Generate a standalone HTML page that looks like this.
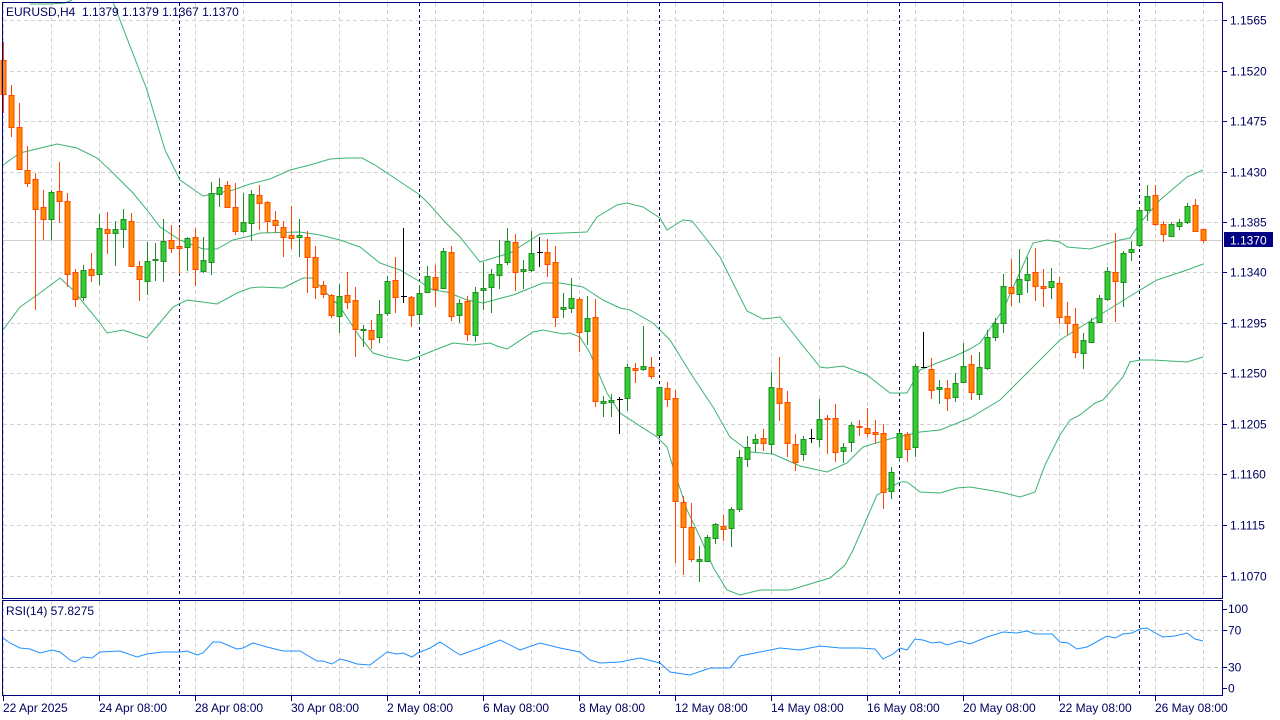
<!DOCTYPE html>
<html><head><meta charset="utf-8"><style>
html,body{margin:0;padding:0;background:#fff;}
svg{display:block;}
text{font-family:"Liberation Sans",sans-serif;font-size:12px;fill:#000060;}
</style></head><body>
<svg id="s" width="1280" height="720" xmlns="http://www.w3.org/2000/svg"></svg>
<script>
const S=document.getElementById('s');let h='';
function L(x1,y1,x2,y2,c,w,d){h+=`<line x1="${x1}" y1="${y1}" x2="${x2}" y2="${y2}" stroke="${c}" stroke-width="${w||1}" ${d?`stroke-dasharray="${d}"`:''} shape-rendering="crispEdges"/>`;}
function T(x,y,t,a){h+=`<text x="${x}" y="${y}" ${a||''}>${t}</text>`;}
function P(pts,c){h+=`<polyline fill="none" stroke="${c}" stroke-width="1" points="${pts.map(p=>p.join(',')).join(' ')}"/>`;}
// grid
for(let x=3.5;x<1223;x+=48){L(x,3,x,597,'#d3d3d3',1,'4,3');L(x,601,x,695,'#d3d3d3',1,'4,3');}
const gy=[20,71,121,172,222,272,323,373,424,474,525,576];
const gl=['1.1565','1.1520','1.1475','1.1430','1.1385','1.1340','1.1295','1.1250','1.1205','1.1160','1.1115','1.1070'];
gy.forEach((y,i)=>{L(3,y+.5,1222,y+.5,'#d3d3d3',1,'4,3');L(1223,y+.5,1227,y+.5,'#000080');if(i!=5||true)T(1230,y+4.5,gl[i]);});
L(3,240.5,1222,240.5,'#d0d0d0');
// RSI grid
L(3,630.5,1222,630.5,'#c0c0c0',1,'4,3');L(3,667.5,1222,667.5,'#c0c0c0',1,'4,3');
// separators
[179,419,659,899,1139].forEach(x=>{L(x+.5,3,x+.5,597,'#000060',1,'3,3');L(x+.5,601,x+.5,695,'#000060',1,'3,3');});
// bands
const up=[[30,4],[50,4],[65,3],[72,0]];
P(up,'#3cb371');
P([[113,2],[147,90],[165,150],[180,180],[203,196],[233,190],[250,184],[270,179],[290,170],[310,165],[330,159],[348,158],[362,158],[375,165],[390,175],[405,185],[420,195],[430,205],[445,222],[460,237],[480,262],[510,253],[540,234],[587,232],[597,217],[617,205],[627,203],[643,207],[660,218],[667,230],[683,220],[692,221],[707,240],[720,257],[747,311],[763,319],[780,317],[820,367],[827,368],[843,366],[867,375],[890,393],[907,393],[920,370],[937,363],[953,357],[970,349],[980,343],[1003,310],[1033,243],[1047,240],[1060,242],[1067,247],[1090,249],[1120,240],[1130,238],[1140,223],[1160,200],[1187,177],[1203,170]],'#3cb371');
P([[3,165],[20,153],[57,144],[77,148],[97,158],[110,170],[133,193],[147,210],[160,227],[180,240],[203,249],[217,249],[233,240],[250,236],[260,233],[300,232],[320,235],[340,240],[360,247],[380,263],[400,270],[417,280],[433,290],[447,292],[467,300],[483,303],[513,295],[543,283],[560,283],[583,287],[603,300],[620,308],[630,310],[653,323],[670,340],[693,377],[713,407],[730,437],[750,452],[773,454],[800,466],[827,472],[847,463],[863,447],[893,438],[920,432],[940,430],[970,418],[1000,400],[1060,340],[1103,313],[1140,290],[1157,280],[1187,270],[1203,264]],'#3cb371');
P([[3,330],[20,307],[40,293],[60,278],[73,290],[100,323],[107,333],[123,330],[147,338],[173,307],[187,300],[217,304],[237,293],[250,288],[260,287],[283,288],[293,283],[303,278],[312,278],[340,307],[360,337],[373,353],[387,357],[407,361],[420,356],[440,348],[453,343],[473,345],[490,343],[497,346],[507,349],[533,332],[543,330],[563,334],[570,333],[580,337],[590,353],[607,393],[620,413],[657,437],[667,447],[673,467],[687,510],[700,537],[713,567],[727,590],[740,595],[760,590],[790,590],[830,578],[845,565],[853,550],[877,495],[900,482],[907,482],[920,492],[940,493],[957,488],[970,487],[1000,492],[1020,497],[1035,492],[1045,465],[1060,435],[1070,420],[1080,415],[1095,403],[1103,400],[1123,377],[1130,362],[1140,360],[1153,360],[1187,362],[1203,357]],'#3cb371');
// candles: type, bodyTop, bodyBot, wickTop, wickBot
const C=`o,60,94,42,113;o,95,127,85,137;o,127,169,103,170;o,170,183,146,187;o,179,209,173,310;o,207,219,190,240;g,192,219,190,240;o,191,201,162,223;o,201,274,193,287;o,272,299,269,307;g,270,297,265,301;o,269,275,253,282;g,228,274,214,285;o,229,233,212,254;g,229,233,221,266;g,219,229,209,248;o,221,266,213,267;o,266,279,261,301;g,261,281,242,295;g,259,260,243,281;g,241,261,219,282;o,240,248,225,253;o,246,248,227,274;g,238,247,237,271;o,237,269,228,286;g,260,271,237,273;g,193,262,182,275;g,187,194,178,207;o,185,207,181,207;o,207,231,183,235;g,222,231,193,233;g,194,223,190,241;o,195,203,185,230;o,202,221,201,233;o,220,225,211,233;o,227,237,221,257;o,235,238,206,249;g,235,237,219,257;o,237,257,231,293;o,257,287,246,299;o,285,294,281,298;o,295,315,294,318;g,296,316,284,333;o,295,302,272,309;o,300,329,287,357;g,329,330,325,347;o,330,339,320,349;g,314,337,300,343;g,281,313,276,316;o,280,297,257,313;d,296,296,228,303;o,297,315,296,327;g,293,314,285,324;g,276,292,266,293;o,277,289,265,307;g,251,288,248,289;o,252,316,246,321;g,303,315,299,323;o,301,334,296,341;g,292,335,287,342;g,288,290,262,310;g,274,287,269,313;g,264,275,240,289;g,241,262,228,265;o,242,272,234,291;g,269,271,260,289;g,253,270,231,272;d,252,252,237,267;o,252,264,239,277;o,262,317,246,327;g,307,309,293,318;g,298,308,278,313;o,299,332,297,352;g,318,331,296,345;o,317,401,299,407;g,401,403,396,417;g,400,402,394,417;d,399,399,397,434;g,367,398,364,411;o,368,370,363,383;g,366,369,326,371;o,367,376,357,379;g,387,435,387,435;o,388,399,382,407;o,398,501,390,563;o,502,527,496,575;o,527,559,503,562;g,559,561,546,582;g,537,561,535,562;g,524,538,523,544;o,526,529,515,541;g,509,528,507,547;g,457,509,450,512;g,447,459,436,467;g,439,443,434,452;o,438,443,429,451;g,387,444,372,454;o,388,403,357,421;o,402,443,391,457;o,444,462,434,471;g,439,454,436,461;d,438,438,429,443;g,419,439,399,447;o,418,419,415,454;o,418,452,404,462;g,447,451,443,463;g,425,442,422,452;o,426,427,420,436;o,428,433,408,437;o,432,434,420,444;o,433,492,424,509;g,472,491,467,499;g,433,457,432,462;o,434,449,432,462;g,366,447,364,457;d,367,367,332,368;o,369,390,358,399;g,387,389,380,404;o,388,398,380,411;g,383,397,373,402;g,366,382,343,383;o,364,392,355,400;g,367,394,352,400;g,337,368,330,370;g,323,337,318,341;g,286,323,274,333;o,287,293,259,306;g,279,294,249,303;g,274,280,257,293;o,272,286,248,301;o,286,288,269,307;g,281,287,268,299;o,283,317,277,324;o,316,323,302,335;o,324,352,308,358;g,340,353,333,369;g,322,342,318,343;g,298,322,295,323;g,271,299,267,301;o,272,281,233,322;g,253,282,251,307;g,249,252,241,261;g,210,245,207,247;g,196,210,185,221;o,195,224,185,226;o,224,234,221,242;g,224,236,222,237;g,222,226,219,230;g,206,222,203,224;o,205,231,199,232;o,229,240,229,243`.split(';');
C.forEach((r,i)=>{const a=r.split(',');const t=a[0];const[bt,bb,wt,wb]=a.slice(1).map(Number);const x=3.5+8*i;
 const wc=t=='g'?'#228b22':t=='o'?'#ff4500':'#000';
 L(x,Math.max(wt,3),x,wb,wc);
 if(t=='d'){L(x-2.5,bt+.5,x+3.5,bt+.5,'#000');}
 else{const fill=t=='g'?'#32cd32':'#ff8c00';const hh=Math.max(bb-bt,1);
 h+=`<rect x="${x-2.5}" y="${bt+.5}" width="5" height="${hh}" fill="${fill}" stroke="${wc}" stroke-width="1" shape-rendering="crispEdges"/>`;}
});
// RSI
P([[3,638],[10,643],[20,648],[30,649],[40,653],[52,650],[60,652],[70,660],[75,662],[83,657],[92,658],[100,652],[120,651],[137,657],[147,654],[163,652],[180,652],[187,651],[197,655],[203,653],[213,642],[220,642],[237,649],[243,648],[253,643],[267,647],[283,651],[300,651],[317,661],[323,661],[332,664],[340,659],[348,661],[357,664],[370,665],[387,652],[397,654],[403,653],[412,657],[418,653],[430,648],[440,642],[460,655],[480,648],[500,640],[520,650],[540,643],[560,648],[580,652],[590,660],[600,663],[620,662],[640,658],[660,663],[670,672],[690,675],[710,668],[730,668],[740,656],[760,652],[780,648],[800,650],[820,646],[840,648],[860,648],[875,649],[883,659],[893,654],[900,648],[907,650],[915,639],[923,640],[932,643],[940,642],[947,645],[960,641],[970,644],[987,637],[1003,632],[1017,633],[1027,631],[1035,634],[1052,634],[1060,642],[1068,643],[1077,649],[1087,647],[1107,636],[1115,638],[1123,634],[1132,633],[1140,629],[1147,628],[1155,633],[1163,637],[1175,636],[1187,633],[1195,639],[1203,641]],'#1e90ff');
// frames
h+=`<rect x="2.5" y="2.5" width="1220" height="596" fill="none" stroke="#000080" shape-rendering="crispEdges"/>`;
h+=`<rect x="2.5" y="600.5" width="1220" height="95" fill="none" stroke="#000080" shape-rendering="crispEdges"/>`;
// current price label
h+=`<rect x="1224" y="232" width="49" height="15" fill="#000080"/>`;
h+=`<text x="1230" y="244.5" style="fill:#fff">1.1370</text>`;
// RSI labels
T(1228,613,'100');T(1228,634.5,'70');T(1228,671.5,'30');T(1228,692.5,'0');
[609,630,667,688].forEach(y=>L(1223,y+.5,1227,y+.5,'#000080'));
// time axis
const tl=['22 Apr 2025','24 Apr 08:00','28 Apr 08:00','30 Apr 08:00','2 May 08:00','6 May 08:00','8 May 08:00','12 May 08:00','14 May 08:00','16 May 08:00','20 May 08:00','22 May 08:00','26 May 08:00'];
tl.forEach((t,i)=>{const x=3+96*i;L(x+.5,696,x+.5,701,'#000080');T(x,712,t);});
T(6,16,'EURUSD,H4&#160;&#160;1.1379 1.1379 1.1367 1.1370');
T(6,615,'RSI(14) 57.8275');
S.innerHTML=h;
</script>
</body></html>
